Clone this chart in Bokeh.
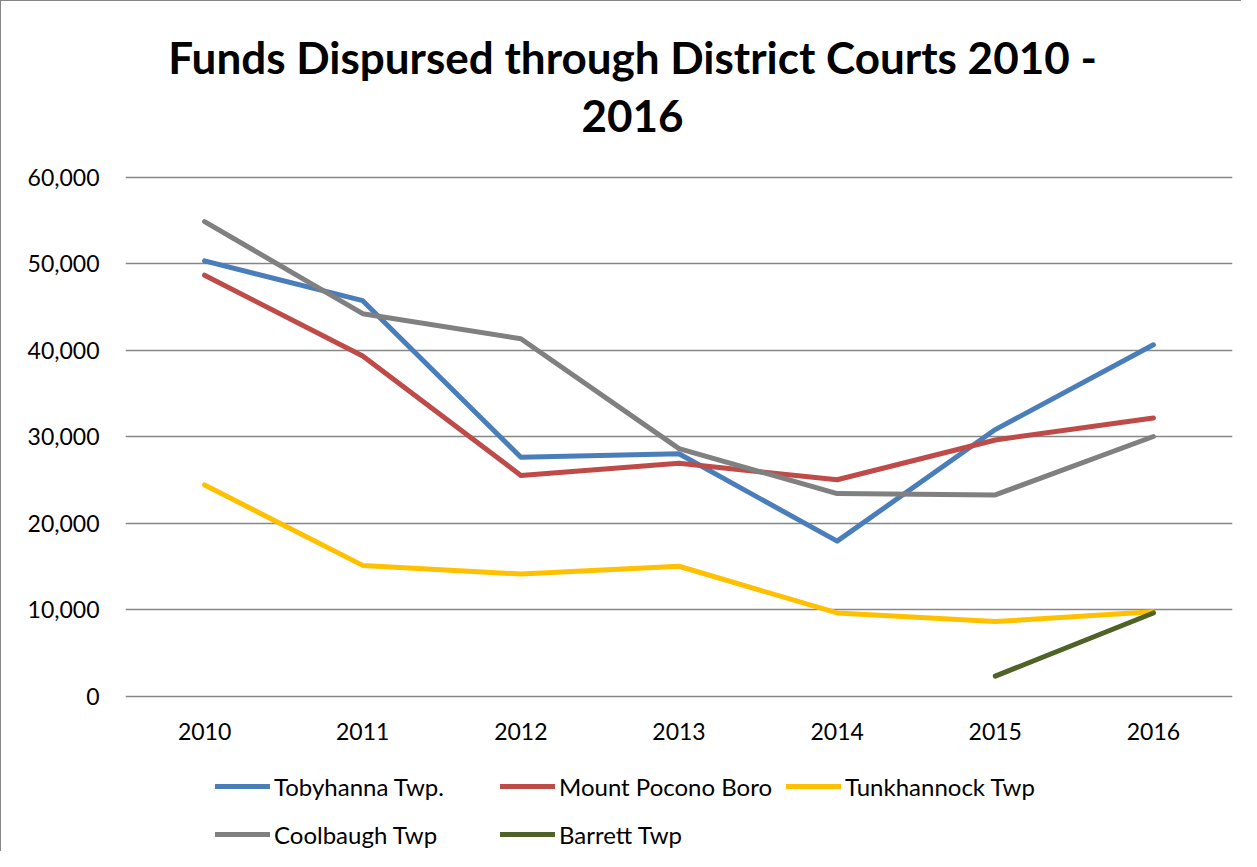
from bokeh.plotting import figure
from bokeh.models import Label, Legend, LegendItem, FixedTicker, NumeralTickFormatter, Range1d
from bokeh.embed import file_html
from bokeh.resources import INLINE

years = ["2010", "2011", "2012", "2013", "2014", "2015", "2016"]
tobyhanna = [50300, 45700, 27600, 28000, 17900, 30800, 40600]
mount_pocono = [48650, 39300, 25500, 26900, 25000, 29600, 32150]
tunkhannock = [24400, 15100, 14100, 15000, 9600, 8600, 9750]
coolbaugh = [54850, 44200, 41300, 28600, 23400, 23250, 30000]
barrett_years = ["2015", "2016"]
barrett = [2300, 9600]
y_ticks = [0, 10000, 20000, 30000, 40000, 50000, 60000]

# layout (pixels): whole canvas is the frame vertically; 0 and 60,000 sit at fixed pixel rows
W, H = 1241, 851
Y_TOP_PX, Y_ZERO_PX = 175.5, 694.5          # canvas rows of 60,000 and 0
units_per_px = 60000 / (Y_ZERO_PX - Y_TOP_PX)
y_start = -(H - Y_ZERO_PX) * units_per_px
y_end = 60000 + Y_TOP_PX * units_per_px

p = figure(x_range=years, width=W, height=H,
           output_backend="svg", toolbar_location=None,
           min_border_left=124, min_border_right=10, min_border_top=0, min_border_bottom=0)
p.y_range = Range1d(y_start, y_end)
p.x_range.range_padding = 0
p.outline_line_color = None
p.styles = {"border-left": "1.5px solid #868686", "border-top": "1.5px solid #868686"}

p.xgrid.grid_line_color = None
p.ygrid.grid_line_color = "#868686"
p.ygrid.grid_line_width = 1.5
p.ygrid.ticker = FixedTicker(ticks=y_ticks)
p.yaxis.ticker = FixedTicker(ticks=y_ticks)
p.yaxis.formatter = NumeralTickFormatter(format="0,0")
p.xaxis.fixed_location = 0

for ax in (p.xaxis[0], p.yaxis[0]):
    ax.axis_line_color = None
    ax.major_tick_line_color = None
    ax.minor_tick_line_color = None
    ax.major_label_text_font = "Lato"
    ax.major_label_text_font_size = "23px"
    ax.major_label_text_color = "#000000"
p.yaxis.major_label_standoff = 20
p.xaxis.major_label_standoff = 21

lw = 5
r1 = p.line(years, tobyhanna, line_color="#4A7EBB", line_width=lw, line_cap="round", line_join="round")
r2 = p.line(years, mount_pocono, line_color="#BE4B48", line_width=lw, line_cap="round", line_join="round")
r3 = p.line(years, tunkhannock, line_color="#FFC000", line_width=lw, line_cap="round", line_join="round")
r4 = p.line(years, coolbaugh, line_color="#808080", line_width=lw, line_cap="round", line_join="round")
r5 = p.line(barrett_years, barrett, line_color="#4F6228", line_width=lw, line_cap="round", line_join="round")

legend = Legend(items=[
    LegendItem(label="Tobyhanna Twp.", renderers=[r1]),
    LegendItem(label="Mount Pocono Boro", renderers=[r2]),
    LegendItem(label="Tunkhannock Twp", renderers=[r3]),
    LegendItem(label="Coolbaugh Twp", renderers=[r4]),
    LegendItem(label="Barrett Twp", renderers=[r5]),
], orientation="horizontal", ncols=3, location=(90, 1))
legend.label_text_font = "Lato"
legend.label_text_font_size = "24px"
legend.label_text_color = "#000000"
legend.glyph_width = 55
legend.glyph_height = 34
legend.label_height = 34
legend.label_width = 212
legend.label_standoff = 4
legend.spacing = 14
legend.border_line_color = None
legend.background_fill_alpha = 0
legend.padding = 0
legend.margin = 0
p.add_layout(legend, "center")

for txt, yy in (("Funds Dispursed through District Courts 2010 -", 796), ("2016", 737)):
    p.add_layout(Label(x=507, y=yy, x_units="screen", y_units="screen", text=txt,
                       text_align="center", text_baseline="alphabetic",
                       text_font="Lato", text_font_style="bold", text_font_size="44px",
                       text_color="#000000"))

open("out.html", "w").write(file_html(p, INLINE))
